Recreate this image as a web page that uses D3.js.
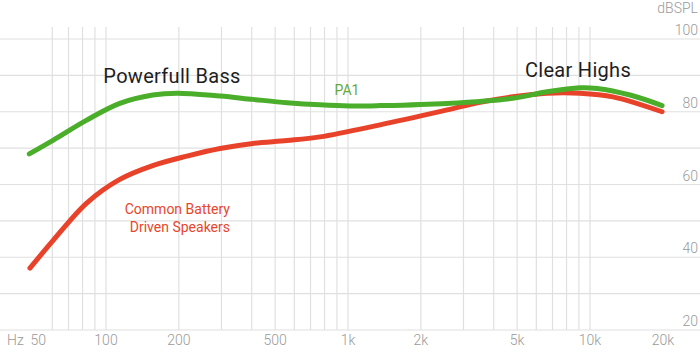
<!DOCTYPE html>
<html>
<head>
<meta charset="utf-8">
<script src="https://cdn.jsdelivr.net/npm/d3@7"></script>
<style>
  html, body {margin: 0; padding: 0; background: #fff;}
  svg {display: block; font-family: Roboto, "Liberation Sans", sans-serif;}
</style>
</head>
<body>
<svg id="chart" width="700" height="352"></svg>
<script>
const freq_grid = [60, 70, 80, 90, 100, 200, 300, 400, 500, 600, 700, 800, 900,
    1000, 2000, 3000, 4000, 5000, 6000, 7000, 8000, 9000, 10000];
const freq_ticks = [50, 100, 200, 500, 1000, 2000, 5000, 10000, 20000];
const freq_labels = ["50", "100", "200", "500", "1k", "2k", "5k", "10k", "20k"];
const db_grid = [20, 30, 40, 50, 60, 70, 80, 90, 100];
const db_ticks = [20, 40, 60, 80, 100];

// PA1 response
const pa1_freq = [48.2, 60.6, 83.2, 114, 156, 197, 296, 405, 560, 766, 1018, 1356, 2566, 4806, 6640, 9090, 10690, 14630, 19850];
const pa1_db = [68.4, 72.2, 77.7, 82.3, 84.6, 85.1, 84.3, 83.4, 82.5, 81.9, 81.6, 81.7, 82.3, 83.7, 85.5, 86.6, 86.4, 84.6, 81.7];

// common battery driven speakers
const common_freq = [48.5, 60.6, 83.2, 114, 156, 216, 296, 405, 560, 766, 1356, 2566, 3512, 4806, 6640, 9090, 12450, 19850];
const common_db = [37.0, 44.7, 54.9, 61.4, 65.2, 67.8, 69.9, 71.3, 72.1, 73.1, 76.4, 80.5, 82.6, 84.1, 85.1, 85.1, 84.1, 80.0];

const w = 700, h = 352;
const svg = d3.select("#chart");

const x = d3.scaleLog().domain([100, 10000]).range([106, 590]);
const y = d3.scaleLinear().domain([20, 100]).range([330, 39]);

const grid_color = "#e0e0e0";
const label_color = "#9a9a9a";

// gridlines_y
svg.append("g").selectAll("line").data(db_grid).enter().append("line")
    .attr("x1", 0).attr("x2", w)
    .attr("y1", d => y(d)).attr("y2", d => y(d))
    .style("stroke", grid_color).style("stroke-width", 1.2);

// gridlines_x
svg.append("g").selectAll("line").data(freq_grid).enter().append("line")
    .attr("x1", d => x(d)).attr("x2", d => x(d))
    .attr("y1", y(100) - 12).attr("y2", y(20))
    .style("stroke", grid_color).style("stroke-width", 1.2);

// axis_y labels
svg.append("g").selectAll("text").data(db_ticks).enter().append("text")
    .attr("x", 698).attr("y", d => y(d) - 4)
    .attr("text-anchor", "end")
    .style("font-size", "14px").style("font-weight", 300).style("fill", label_color)
    .text(d => d);

svg.append("text").attr("x", 698).attr("y", 13)
    .attr("text-anchor", "end")
    .style("font-size", "14px").style("font-weight", 300).style("fill", label_color)
    .text("dBSPL");

// axis_x labels
svg.append("g").selectAll("text").data(freq_ticks).enter().append("text")
    .attr("x", (d, i) => i === 0 ? x(d) + 5 : x(d))
    .attr("y", 345)
    .attr("text-anchor", "middle")
    .style("font-size", "14px").style("font-weight", 300).style("fill", label_color)
    .text((d, i) => freq_labels[i]);

svg.append("text").attr("x", 7).attr("y", 345)
    .style("font-size", "14px").style("font-weight", 300).style("fill", label_color)
    .text("Hz");

// curves
const line = d3.line().x(d => x(d[0])).y(d => y(d[1])).curve(d3.curveCatmullRom.alpha(0.5));

svg.append("path").datum(d3.zip(common_freq, common_db))
    .attr("d", line)
    .style("fill", "none").style("stroke", "#e8432a")
    .style("stroke-width", 5).style("stroke-linecap", "round");

svg.append("path").datum(d3.zip(pa1_freq, pa1_db))
    .attr("d", line)
    .style("fill", "none").style("stroke", "#4aae2b")
    .style("stroke-width", 5).style("stroke-linecap", "round");

// annotations
svg.append("text").attr("x", 172).attr("y", 83)
    .attr("text-anchor", "middle")
    .style("font-size", "20px").style("letter-spacing", "0.3px").style("fill", "#1e1e1e")
    .text("Powerfull Bass");

svg.append("text").attr("x", 578).attr("y", 77)
    .attr("text-anchor", "middle")
    .style("font-size", "20px").style("letter-spacing", "0.3px").style("fill", "#1e1e1e")
    .text("Clear Highs");

svg.append("text").attr("x", 347).attr("y", 95)
    .attr("text-anchor", "middle")
    .style("font-size", "14px").style("fill", "#68a93a")
    .text("PA1");

const red_note = svg.append("text")
    .attr("text-anchor", "end")
    .style("font-size", "14px").style("fill", "#e8462b");
red_note.append("tspan").attr("x", 230).attr("y", 214).text("Common Battery");
red_note.append("tspan").attr("x", 230).attr("y", 232).text("Driven Speakers");
</script>
</body>
</html>
